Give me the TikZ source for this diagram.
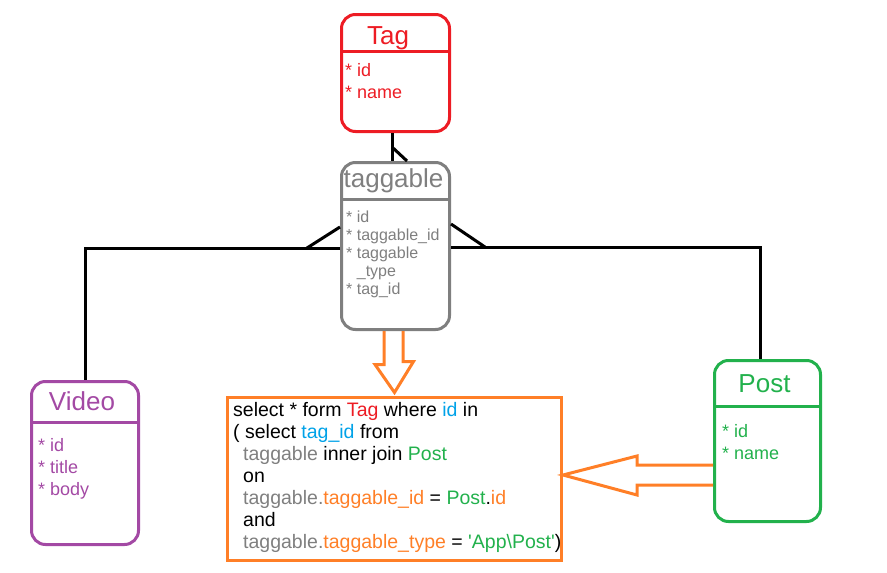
\documentclass[tikz,border=0pt]{standalone}
\usepackage{fontspec}
\setmainfont{Liberation Sans}
\usetikzlibrary{positioning}
\definecolor{tag-red}{HTML}{ED1C24}
\definecolor{pivot-gray}{HTML}{7F7F7F}
\definecolor{video-purple}{HTML}{A349A4}
\definecolor{post-green}{HTML}{22B14C}
\definecolor{sql-orange}{HTML}{FF7F27}
\definecolor{key-blue}{HTML}{00A2E8}
\tikzset{
    entity-box/.style = {draw=#1, line width=3pt, rectangle, rounded corners=14pt, minimum width=108pt, inner sep=0pt},
    entity-title/.style = {text=#1, font=\fontsize{26}{28}\selectfont, inner sep=0pt, anchor=base},
    entity-fields/.style = {text=#1, font=\fontsize{18}{22}\selectfont, align=left, inner sep=0pt, anchor=base west},
    header-line/.style = {draw=#1, line width=3pt},
    link/.style = {draw=black, line width=3pt},
    fat-arrow/.style = {draw=sql-orange, line width=3pt, line join=miter},
}

\begin{document}
\begin{tikzpicture}[x=1pt, y=-1pt]
\useasboundingbox (0,0) rectangle (887,573);

\node [entity-box=tag-red, minimum height=117pt] (tag) at (395.5,73) {};
\draw [header-line=tag-red] (tag.west |- 0,51) -- (tag.east |- 0,51);
\node [entity-title=tag-red] (tag-title) at (388,44) {Tag};
\node [entity-fields=tag-red] (tag-fields) at (345,98) {* id\\* name};

\node [entity-box=pivot-gray, minimum height=167pt] (taggable) at (395.5,246) {};
\draw [header-line=pivot-gray] (taggable.west |- 0,199) -- (taggable.east |- 0,199);
\node [entity-title=pivot-gray] (taggable-title) at (393.5,187) {taggable};
\node [entity-fields=pivot-gray, font=\fontsize{16}{18}\selectfont] (taggable-fields) at (346,294)
    {* id\\* taggable\_id\\* taggable\\\hphantom{*\ }\_type\\* tag\_id};

\node [entity-box=video-purple, minimum width=107pt, minimum height=163pt] (video) at (85,463) {};
\draw [header-line=video-purple] (video.west |- 0,422) -- (video.east |- 0,422);
\node [entity-title=video-purple] (video-title) at (82,410) {Video};
\node [entity-fields=video-purple] (video-fields) at (38,495) {* id\\* title\\* body};

\node [entity-box=post-green, minimum width=106pt, minimum height=161pt] (post) at (767.5,441) {};
\draw [header-line=post-green] (post.west |- 0,406) -- (post.east |- 0,406);
\node [entity-title=post-green] (post-title) at (764.5,392) {Post};
\node [entity-fields=post-green] (post-fields) at (722,459) {* id\\* name};

\node [draw=sql-orange, line width=3pt, rectangle, minimum width=334pt, minimum height=163pt] (sql) at (394.5,479) {};
\node [entity-fields=black, font=\fontsize{19.5}{22}\selectfont] (sql-text) at (233,548) {select * form \textcolor{tag-red}{Tag} where \textcolor{key-blue}{id} in\\
( select \textcolor{key-blue}{tag\_id} from\\
\hspace*{10pt}\textcolor{pivot-gray}{taggable} inner join \textcolor{post-green}{Post}\\
\hspace*{10pt}on\\
\hspace*{10pt}\textcolor{pivot-gray}{taggable.}\textcolor{sql-orange}{taggable\_id} = \textcolor{post-green}{Post}.\textcolor{sql-orange}{id}\\
\hspace*{10pt}and\\
\hspace*{10pt}\textcolor{pivot-gray}{taggable.}\textcolor{sql-orange}{taggable\_type} = \textcolor{post-green}{\textquotesingle App\textbackslash Post\textquotesingle})};

\coordinate (left-foot) at (307,248);
\coordinate (right-foot) at (485,247);

\draw [link] ([xshift=-3.5pt]tag.south) -- ([xshift=-3.5pt]taggable.north);
\draw [link] ([xshift=-3.5pt]tag.south) ++(0,14) -- ([xshift=11.5pt]taggable.north);
\draw [link] (taggable.west |- 0,248) -| (video.north);
\draw [link] (left-foot) -- (taggable.west |- 0,227);
\draw [link] (taggable.east |- 0,247) -| ([xshift=-7.5pt]post.north);
\draw [link] (taggable.east |- 0,224) -- (right-foot);

\draw [fat-arrow] ([xshift=-11.5pt]taggable.south) -- ++(0,33.5) -- ++(-9,0) -- ([yshift=3.5pt]sql.north)
    -- ++(19,-31) -- ++(-10.5,0) -- ([xshift=7.5pt]taggable.south);
\draw [fat-arrow] (post.west |- 0,465) -| (637,456) -- (sql.east |- 0,475) -- (637,495) |- (post.west |- 0,485);
\end{tikzpicture}
\end{document}
